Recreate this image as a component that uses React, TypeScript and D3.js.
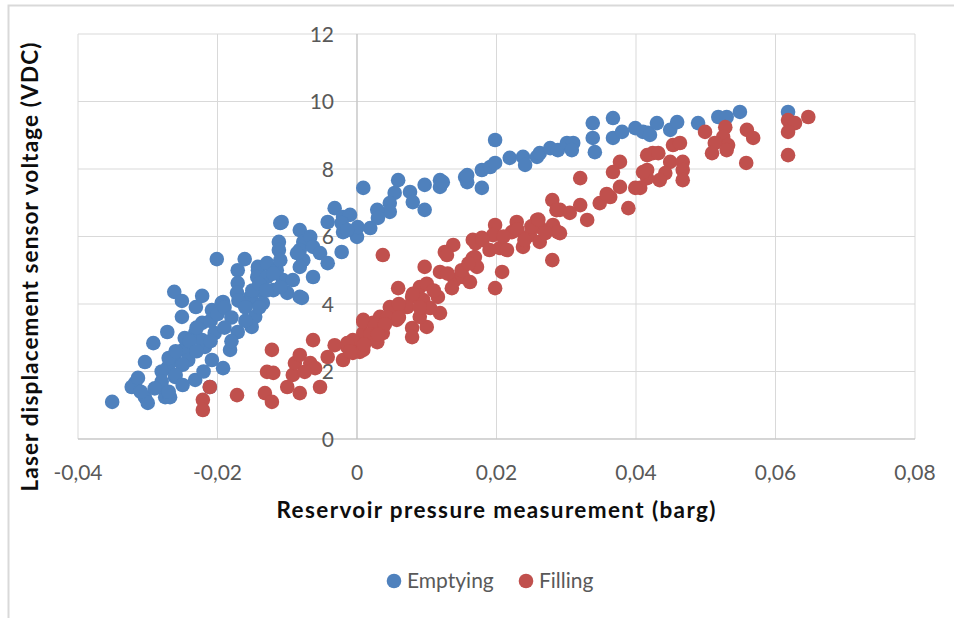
import React from 'react';
import * as d3 from 'd3';

// canvas
const width = 954;
const height = 618;

// plot area (pixels)
const plotLeft = 78;
const plotRight = 915;
const plotTop = 34;
const plotBottom = 439;

// colours
const emptyingColor = '#4F81BD';
const fillingColor = '#C0504D';
const gridColor = '#d9d9d9';
const axisColor = '#bfbfbf';
const labelColor = '#595959';
const fontFamily = 'Lato, "Open Sans", sans-serif';
const markerRadius = 7.3;

// data
const xTicks = [-0.04, -0.02, 0, 0.02, 0.04, 0.06, 0.08];
const yTicks = [0, 2, 4, 6, 8, 10, 12];
const seriesNames = ['Emptying', 'Filling'];

// [pressure (barg), voltage (VDC)]
const emptying: [number, number][] = [
  [-0.0351, 1.1], [-0.0201, 5.33], [-0.0161, 5.33], [-0.0262, 4.36], [-0.0251, 4.09],
  [-0.0222, 4.24], [-0.0231, 3.91], [-0.0192, 4.06], [-0.0251, 3.62], [-0.0272, 3.17],
  [-0.0292, 2.84], [-0.0304, 2.28], [-0.0318, 1.66], [-0.0323, 1.54], [-0.0314, 1.81],
  [-0.0304, 1.24], [-0.03, 1.07], [-0.0282, 1.54], [-0.0275, 1.24], [-0.0268, 1.24],
  [-0.0261, 1.84], [-0.0249, 2.64], [-0.0247, 2.99], [-0.0232, 3.14], [-0.0222, 3.44],
  [-0.0208, 3.82], [-0.0194, 4.03], [-0.0218, 2.73], [-0.0208, 2.34], [-0.0192, 2.1],
  [-0.0182, 2.64], [-0.0171, 3.17], [-0.0242, 2.34], [-0.0232, 1.75], [-0.0261, 2.34],
  [-0.0271, 2.13], [-0.0211, 1.54], [-0.0171, 5.0], [-0.0171, 4.62], [-0.0151, 4.12],
  [-0.0146, 3.62], [-0.0151, 3.32], [-0.0142, 5.0], [-0.0204, 3.14], [-0.0222, 2.93],
  [-0.0172, 4.33], [-0.0142, 5.1], [-0.0129, 5.21], [-0.0143, 4.8], [-0.0129, 4.8],
  [-0.0115, 5.0], [-0.011, 6.4], [-0.0112, 5.84], [-0.0112, 5.6], [-0.011, 5.3],
  [-0.0106, 4.71], [-0.01, 4.33], [-0.0092, 4.71], [-0.0079, 4.18], [-0.012, 4.41],
  [-0.0139, 4.41], [-0.0153, 4.21], [-0.0163, 4.03], [-0.0135, 4.03], [-0.0082, 6.19],
  [-0.0077, 5.84], [-0.0082, 5.6], [-0.0077, 5.3], [-0.0067, 5.99], [-0.0063, 5.69],
  [-0.0053, 5.51], [-0.0063, 4.8], [-0.0042, 5.21], [-0.0042, 6.43], [-0.0032, 6.84],
  [-0.002, 6.58], [-0.002, 6.13], [-0.0022, 5.54], [-0.0082, 5.1], [-0.0086, 5.51],
  [0.0009, 7.44], [0.0059, 7.67], [0.0054, 7.29], [0.0076, 7.32], [0.008, 7.02],
  [0.0097, 7.53], [0.0119, 7.67], [0.0119, 7.47], [0.0097, 6.79], [0.0047, 6.99],
  [0.0047, 6.73], [0.0029, 6.79], [0.003, 6.55], [0.0019, 6.25], [0.0, 5.99],
  [0.0001, 6.28], [-0.001, 6.64], [-0.0022, 6.4], [-0.0014, 6.19], [-0.0108, 6.43],
  [-0.0082, 4.21], [0.0155, 7.76], [0.0158, 7.61], [0.0198, 8.86], [0.0123, 7.61],
  [0.0158, 7.82], [0.0179, 7.44], [0.0179, 7.97], [0.0191, 8.06], [0.0198, 8.18],
  [0.0219, 8.33], [0.0238, 8.36], [0.0241, 8.12], [0.0258, 8.36], [0.0262, 8.47],
  [0.0277, 8.62], [0.0288, 8.56], [0.0301, 8.77], [0.031, 8.77], [0.0308, 8.56],
  [0.0338, 9.36], [0.0338, 8.92], [0.0341, 8.5], [0.0367, 9.51], [0.0367, 8.92],
  [0.038, 9.1], [0.0399, 9.21], [0.0417, 9.07], [0.043, 9.36], [0.041, 9.1],
  [0.042, 9.01], [0.0449, 9.16], [0.0459, 9.39], [0.0489, 9.36], [0.0518, 9.54],
  [0.053, 9.54], [0.0549, 9.69], [0.0618, 9.69],
  [-0.028, 2.0], [-0.027, 2.4], [-0.026, 2.6], [-0.025, 2.2], [-0.024, 2.9],
  [-0.023, 3.3], [-0.021, 3.5], [-0.02, 3.7], [-0.019, 3.9], [-0.018, 3.6],
  [-0.017, 4.1], [-0.016, 3.9], [-0.015, 4.4], [-0.014, 4.6], [-0.013, 4.4],
  [-0.012, 4.9], [-0.011, 4.5], [-0.019, 3.3], [-0.021, 2.9], [-0.023, 2.6],
  [-0.026, 1.9], [-0.028, 1.7], [-0.029, 1.5], [-0.031, 1.4], [-0.027, 1.4],
  [-0.025, 1.6], [-0.022, 2.0], [-0.018, 2.9], [-0.016, 3.5], [-0.014, 3.9],
];

const filling: [number, number][] = [
  [0.0499, 9.1], [0.0528, 9.24], [0.0525, 8.95], [0.0513, 8.77], [0.0509, 8.47],
  [0.0532, 8.71], [0.053, 8.56], [0.0559, 9.16], [0.0568, 8.92], [0.0558, 8.18],
  [0.0618, 9.45], [0.0628, 9.36], [0.0647, 9.54], [0.0618, 9.1], [0.0618, 8.41],
  [0.0453, 8.71], [0.0463, 8.77], [0.0424, 8.47], [0.0416, 8.41], [0.0449, 8.21],
  [0.0467, 8.21], [0.0467, 7.97], [0.0467, 7.67], [0.0442, 7.88], [0.0434, 7.67],
  [0.0416, 7.97], [0.0416, 7.73], [0.0406, 7.44], [0.032, 7.73], [0.0377, 8.21],
  [0.0367, 7.91], [0.0377, 7.47], [0.0399, 7.44], [0.0389, 6.84], [0.0363, 7.17],
  [0.0348, 6.99], [0.032, 6.93], [0.033, 6.49], [0.0305, 6.7], [0.0291, 6.79],
  [0.0291, 6.1], [0.041, 7.91], [0.0432, 8.47], [0.0358, 7.26], [0.028, 7.08],
  [0.0286, 6.78], [0.0281, 6.34], [0.0288, 6.13], [0.0258, 6.49], [0.0262, 6.28],
  [0.0248, 6.04], [0.0262, 5.84], [0.0238, 5.69], [0.0229, 6.43], [0.0222, 6.13],
  [0.0198, 6.34], [0.0195, 6.04], [0.0166, 5.9], [0.0179, 5.96], [0.0205, 5.66],
  [0.0138, 5.75], [0.0126, 5.54], [0.0166, 5.36], [0.028, 5.3], [0.0037, 5.45],
  [0.0129, 5.45], [0.0169, 5.39], [0.0172, 5.1], [0.0208, 4.95], [0.0198, 4.47],
  [0.0215, 5.6], [0.0097, 5.1], [0.0119, 4.95], [0.014, 4.71], [0.0152, 4.8],
  [0.0162, 4.65], [0.0136, 4.47], [0.0116, 4.21], [0.0119, 3.73], [0.01, 3.32],
  [0.0079, 3.29], [0.0079, 3.02], [0.0059, 4.47], [0.009, 4.5], [0.0079, 4.21],
  [0.0095, 4.12], [0.0072, 3.91], [0.0059, 3.73], [0.0047, 3.91], [0.0057, 3.53],
  [0.0033, 3.62], [0.0023, 3.44], [0.0009, 3.53], [0.0009, 3.14], [-0.0006, 2.93],
  [-0.0014, 2.73], [0.0004, 2.58], [0.0029, 2.93], [0.0037, 3.14], [-0.002, 2.34],
  [0.009, 3.62], [0.0105, 3.88], [-0.0211, 1.54], [-0.0221, 1.16], [-0.0221, 0.86],
  [-0.0172, 1.3], [-0.0122, 2.64], [-0.0129, 1.99], [-0.012, 1.96], [-0.0132, 1.36],
  [-0.0122, 1.1], [-0.01, 1.54], [-0.0092, 1.9], [-0.0089, 2.25], [-0.0082, 2.49],
  [-0.0082, 1.36], [-0.0063, 2.93], [-0.0067, 2.25], [-0.006, 2.1], [-0.0075, 1.99],
  [-0.0053, 1.54], [-0.0042, 2.43], [-0.0032, 2.78], [-0.0014, 2.84], [-0.0006, 2.55],
  [0.0009, 2.64], [0.0009, 3.47], [0.0026, 3.38], [0.0029, 2.87], [0.0043, 3.59],
  [0.0019, 3.1],
  [0.006, 4.0], [0.008, 4.3], [0.01, 4.6], [0.011, 4.4], [0.013, 4.9],
  [0.015, 5.0], [0.016, 5.2], [0.017, 5.8], [0.018, 5.9], [0.019, 5.6],
  [0.021, 6.0], [0.023, 6.2], [0.024, 5.9], [0.025, 6.3], [0.026, 6.5],
  [0.027, 6.1], [0.004, 3.4], [0.006, 3.6], [0.003, 3.1], [0.001, 2.8],
  [-0.001, 2.6], [0.009, 3.9],
];

const x = d3.scaleLinear().domain([-0.04, 0.08]).range([plotLeft, plotRight]);
const y = d3.scaleLinear().domain([0, 12]).range([plotBottom, plotTop]);

const fmt = (v: number) => String(v).replace('.', ',');

const App = () => (
  <svg
    width={width}
    height={height}
    style={{ position: 'absolute', left: 0, top: 0, background: '#fff' }}
    fontFamily={fontFamily}
  >
    {/* chart frame */}
    <rect x={8.5} y={5.5} width={980} height={640} fill="#fff" stroke={gridColor} strokeWidth={2} />

    {/* gridlines */}
    {yTicks.map((t) => (
      <line key={'gy' + t} x1={plotLeft} x2={plotRight} y1={y(t)} y2={y(t)} stroke={gridColor} />
    ))}
    {xTicks.map((t) => (
      <line key={'gx' + t} x1={x(t)} x2={x(t)} y1={plotTop} y2={plotBottom} stroke={gridColor} />
    ))}

    {/* axes */}
    <line x1={x(0)} x2={x(0)} y1={plotTop} y2={plotBottom} stroke={axisColor} />
    <line x1={plotLeft} x2={plotRight} y1={y(0)} y2={y(0)} stroke={axisColor} />

    {/* tick labels */}
    {yTicks.map((t) => (
      <text
        key={'ty' + t}
        x={x(0) - 23}
        y={y(t)}
        dy="0.36em"
        textAnchor="end"
        fontSize={21}
        fill={labelColor}
      >
        {t}
      </text>
    ))}
    {xTicks.map((t) => (
      <text key={'tx' + t} x={x(t)} y={480} textAnchor="middle" fontSize={21} fill={labelColor}>
        {fmt(t)}
      </text>
    ))}

    {/* points */}
    {emptying.map((d, i) => (
      <circle key={'e' + i} cx={x(d[0])} cy={y(d[1])} r={markerRadius} fill={emptyingColor} />
    ))}
    {filling.map((d, i) => (
      <circle key={'f' + i} cx={x(d[0])} cy={y(d[1])} r={markerRadius} fill={fillingColor} />
    ))}

    {/* axis titles */}
    <text
      x={496}
      y={518}
      textAnchor="middle"
      fontSize={22.5}
      fontWeight="bold"
      fill="#0d0d0d"
      textLength={439}
      lengthAdjust="spacing"
    >
      Reservoir pressure measurement (barg)
    </text>
    <text
      transform="translate(38,267) rotate(-90)"
      textAnchor="middle"
      fontSize={22.5}
      fontWeight="bold"
      fill="#0d0d0d"
      textLength={449}
      lengthAdjust="spacing"
    >
      Laser displacement sensor voltage (VDC)
    </text>

    {/* legend */}
    <circle cx={394} cy={581} r={markerRadius} fill={emptyingColor} />
    <text x={407} y={588} fontSize={21} fill={labelColor}>
      {seriesNames[0]}
    </text>
    <circle cx={526} cy={581} r={markerRadius} fill={fillingColor} />
    <text x={539} y={588} fontSize={21} fill={labelColor}>
      {seriesNames[1]}
    </text>
  </svg>
);

export default App;
